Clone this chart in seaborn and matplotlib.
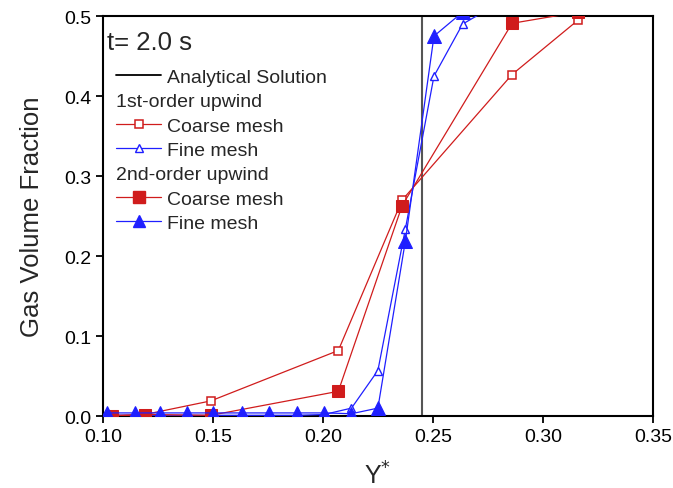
import matplotlib
matplotlib.use("Agg")
import matplotlib.pyplot as plt
import seaborn as sns
import pandas as pd
import numpy as np
from matplotlib.lines import Line2D

# ---- data ----
analytical_x = [0.245, 0.245]
analytical_y = [0.0, 1.0]

c1_x = [0.104, 0.119, 0.149, 0.207, 0.236, 0.286, 0.316]
c1_y = [0.001, 0.002, 0.019, 0.082, 0.270, 0.427, 0.495]

f1_x = [0.102, 0.1145, 0.126, 0.138, 0.150, 0.163, 0.1755, 0.188, 0.2005, 0.213, 0.225, 0.2375, 0.2505, 0.2635, 0.276]
f1_y = [0.001, 0.001, 0.001, 0.001, 0.001, 0.001, 0.001, 0.001, 0.002, 0.010, 0.057, 0.234, 0.425, 0.490, 0.510]

c2_x = [0.104, 0.119, 0.149, 0.207, 0.236, 0.286, 0.316]
c2_y = [0.000, 0.002, 0.001, 0.031, 0.263, 0.491, 0.505]

f2_x = [0.102, 0.1145, 0.126, 0.138, 0.150, 0.163, 0.1755, 0.188, 0.2005, 0.213, 0.225, 0.2375, 0.2505, 0.2635]
f2_y = [0.004, 0.004, 0.004, 0.004, 0.004, 0.004, 0.004, 0.004, 0.004, 0.003, 0.010, 0.219, 0.475, 0.505]

x_ticks = [0.10, 0.15, 0.20, 0.25, 0.30, 0.35]
x_ticklabels = ["0.10", "0.15", "0.20", "0.25", "0.30", "0.35"]
y_ticks = [0.0, 0.1, 0.2, 0.3, 0.4, 0.5]
y_ticklabels = ["0.0", "0.1", "0.2", "0.3", "0.4", "0.5"]

labels = ["Analytical Solution", "1st-order upwind", "Coarse mesh", "Fine mesh",
          "2nd-order upwind", "Coarse mesh", "Fine mesh"]

# ---- style ----
sns.set_style("ticks")
plt.rcParams['font.family'] = ['Liberation Sans', 'DejaVu Sans']

RED = "#d01c1c"
BLUE = "#1f1fff"

fig = plt.figure(figsize=(6.73, 4.89), dpi=100)
ax = fig.add_axes([0.153, 0.147, 0.817, 0.818])

sns.lineplot(x=analytical_x, y=analytical_y, ax=ax, color="#555555", lw=1.5,
             sort=False, estimator=None, zorder=2)
sns.lineplot(x=c1_x, y=c1_y, ax=ax, color=RED, lw=0.9, marker="s", markersize=5.5,
             markerfacecolor="white", markeredgecolor=RED, markeredgewidth=1.1,
             sort=False, estimator=None, zorder=3)
sns.lineplot(x=f1_x, y=f1_y, ax=ax, color=BLUE, lw=0.9, marker="^", markersize=6,
             markerfacecolor="white", markeredgecolor=BLUE, markeredgewidth=1.0,
             sort=False, estimator=None, zorder=3)
sns.lineplot(x=c2_x, y=c2_y, ax=ax, color=RED, lw=0.9, marker="s", markersize=9,
             markerfacecolor=RED, markeredgecolor=RED,
             sort=False, estimator=None, zorder=4)
sns.lineplot(x=f2_x, y=f2_y, ax=ax, color=BLUE, lw=0.9, marker="^", markersize=9.5,
             markerfacecolor=BLUE, markeredgecolor=BLUE,
             sort=False, estimator=None, zorder=4)

ax.set_xlim(0.10, 0.35)
ax.set_ylim(0.0, 0.5)
ax.set_xticks(x_ticks)
ax.set_xticklabels(x_ticklabels)
ax.set_yticks(y_ticks)
ax.set_yticklabels(y_ticklabels)
ax.tick_params(axis='both', direction='out', length=5, width=1.3, labelsize=14,
               top=False, right=False, colors='black')
for s in ax.spines.values():
    s.set_visible(True)
    s.set_linewidth(1.5)
    s.set_color('black')

ax.set_ylabel("Gas Volume Fraction", fontsize=18.5, labelpad=14)
ax.set_xlabel("Y$^{*}$", fontsize=18, labelpad=12)

ax.text(0.008, 0.965, "t= 2.0 s", transform=ax.transAxes, fontsize=18.5,
        ha='left', va='top')

# ---- legend ----
blank = Line2D([], [], linestyle='none', marker=None)
handles = [
    Line2D([], [], color="black", lw=1.3),
    blank,
    Line2D([], [], color=RED, lw=0.9, marker="s", markersize=5.5,
           markerfacecolor="white", markeredgecolor=RED, markeredgewidth=1.1),
    Line2D([], [], color=BLUE, lw=0.9, marker="^", markersize=6,
           markerfacecolor="white", markeredgecolor=BLUE),
    blank,
    Line2D([], [], color=RED, lw=0.9, marker="s", markersize=9,
           markerfacecolor=RED, markeredgecolor=RED),
    Line2D([], [], color=BLUE, lw=0.9, marker="^", markersize=9,
           markerfacecolor=BLUE, markeredgecolor=BLUE),
]
leg = ax.legend(handles, labels, loc='upper left', bbox_to_anchor=(0.024, 0.87),
                frameon=False, fontsize=14, handlelength=2.3, handletextpad=0.3,
                labelspacing=0.35, borderpad=0, borderaxespad=0)
shift = (2.3 + 0.3) * 14 * 100 / 72.0
for i in (1, 4):
    leg.get_texts()[i].set_position((-shift, 0))

fig.savefig("out.png", dpi=100)
